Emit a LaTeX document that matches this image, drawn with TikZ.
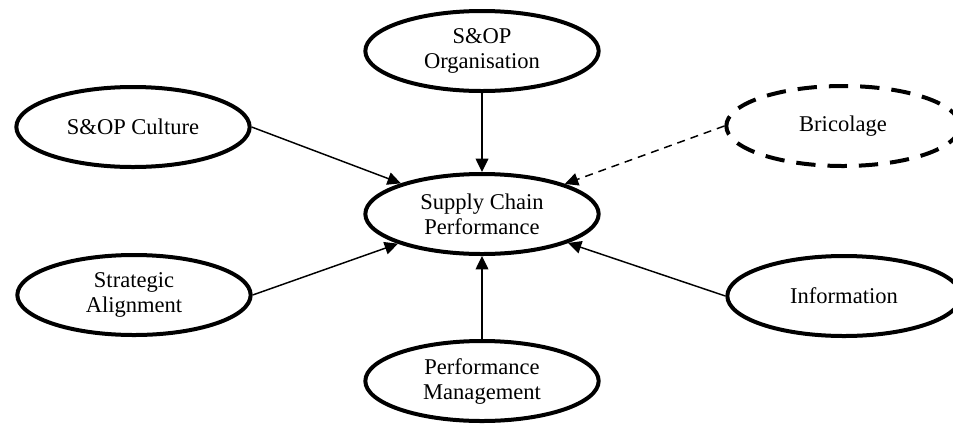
\documentclass[tikz,border=0pt]{standalone}
\usepackage{fontspec}
\setmainfont{Liberation Serif}
\usetikzlibrary{shapes.geometric,arrows.meta}
\begin{document}
\begin{tikzpicture}[x=0.75pt,y=-0.75pt,
  var/.style={ellipse, draw, line width=3pt, inner sep=0pt, minimum width=175pt, minimum height=60pt, align=center, font=\fontsize{16.9pt}{18.75pt}\selectfont},
  dvar/.style={var, dash pattern=on 14.5pt off 9pt},
  link/.style={line width=1.1pt, -{Triangle[length=10pt,width=9.5pt]}},
  dlink/.style={link, dash pattern=on 6pt off 4.5pt}]
\clip (0,0) rectangle (953,426);
\node[var] (org) at (482,51) {S\&OP\\Organisation};
\node[var] (cult) at (133,127) {S\&OP Culture};
\node[dvar] (bric) at (843,126) {Bricolage};
\node[var] (scp) at (482,214) {Supply Chain\\Performance};
\node[var] (strat) at (134,295) {Strategic\\Alignment};
\node[var] (info) at (844,296) {Information};
\node[var] (perf) at (482,381) {Performance\\Management};
\draw[link] (cult.east) -- (scp);
\draw[link] (strat.east) -- (scp);
\draw[dlink] (bric.west) -- (scp);
\draw[link] (info.west) -- (scp);
\draw[link] (org) -- (scp);
\draw[link] (perf) -- (scp);
\end{tikzpicture}
\end{document}
